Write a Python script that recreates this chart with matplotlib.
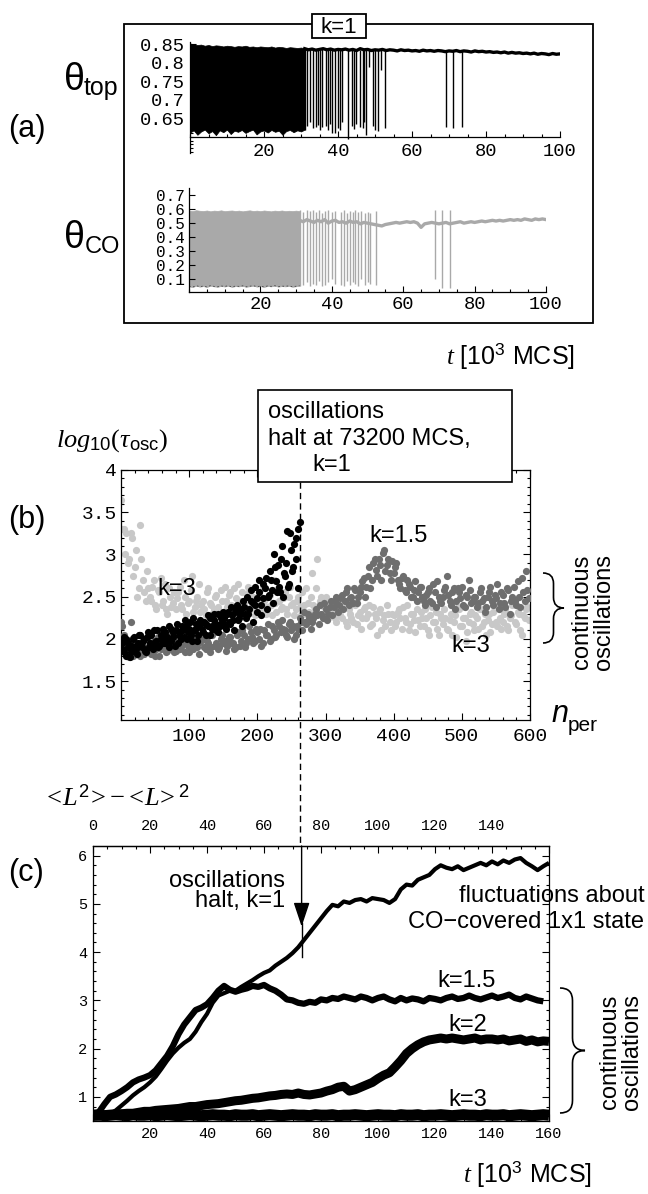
import numpy as np
import matplotlib
matplotlib.use('Agg')
import matplotlib.pyplot as plt
from matplotlib.patches import Rectangle, PathPatch
from matplotlib.path import Path
from matplotlib.lines import Line2D

# ---------------- data ----------------
# (a) k=1 coverages, t in 10^3 MCS
t_dense = np.arange(0, 32)            # dense oscillation region
top_hi = [0.852, 0.850, 0.848, 0.849, 0.846, 0.848, 0.845, 0.847, 0.846, 0.844,
          0.846, 0.845, 0.843, 0.845, 0.844, 0.846, 0.843, 0.844, 0.842, 0.844,
          0.843, 0.842, 0.844, 0.841, 0.843, 0.842, 0.840, 0.842, 0.841, 0.840,
          0.841, 0.839]
top_lo = [0.612, 0.618, 0.606, 0.615, 0.620, 0.610, 0.616, 0.605, 0.618, 0.613,
          0.620, 0.608, 0.617, 0.614, 0.619, 0.611, 0.616, 0.620, 0.607, 0.615,
          0.618, 0.612, 0.619, 0.614, 0.617, 0.606, 0.616, 0.619, 0.613, 0.618,
          0.615, 0.620]
co_hi = [0.590, 0.585, 0.592, 0.588, 0.586, 0.590, 0.584, 0.589, 0.587, 0.591,
         0.585, 0.588, 0.590, 0.586, 0.589, 0.584, 0.588, 0.591, 0.586, 0.589,
         0.585, 0.590, 0.587, 0.584, 0.589, 0.586, 0.590, 0.585, 0.588, 0.586,
         0.589, 0.585]
co_lo = [0.050, 0.045, 0.055, 0.048, 0.052, 0.046, 0.055, 0.050, 0.047, 0.053,
         0.049, 0.055, 0.046, 0.052, 0.050, 0.054, 0.047, 0.051, 0.055, 0.048,
         0.052, 0.046, 0.053, 0.050, 0.055, 0.048, 0.052, 0.050, 0.054, 0.047,
         0.051, 0.055]

t_base = np.arange(31, 101)           # after the oscillations die out
top_base = [0.838, 0.835, 0.837, 0.834, 0.836, 0.838, 0.835, 0.837, 0.834, 0.836,
            0.835, 0.837, 0.834, 0.836, 0.833, 0.838, 0.835, 0.836, 0.833, 0.835,
            0.834, 0.836, 0.833, 0.835, 0.834, 0.832, 0.835, 0.833, 0.834, 0.832,
            0.833, 0.831, 0.834, 0.832, 0.833, 0.831, 0.833, 0.832, 0.830, 0.832,
            0.831, 0.833, 0.830, 0.832, 0.831, 0.829, 0.832, 0.830, 0.831, 0.829,
            0.830, 0.828, 0.829, 0.827, 0.829, 0.826, 0.828, 0.826, 0.827, 0.825,
            0.826, 0.824, 0.826, 0.823, 0.825, 0.824, 0.822, 0.825, 0.823, 0.824]
co_base = [0.520, 0.510, 0.525, 0.515, 0.505, 0.520, 0.510, 0.525, 0.500, 0.515,
           0.520, 0.505, 0.510, 0.500, 0.515, 0.505, 0.510, 0.495, 0.505, 0.500,
           0.495, 0.490, 0.485, 0.480, 0.490, 0.495, 0.500, 0.505, 0.500, 0.505,
           0.510, 0.505, 0.510, 0.500, 0.470, 0.495, 0.500, 0.505, 0.500, 0.495,
           0.500, 0.505, 0.495, 0.500, 0.505, 0.510, 0.500, 0.505, 0.510, 0.505,
           0.510, 0.515, 0.510, 0.515, 0.520, 0.515, 0.520, 0.515, 0.520, 0.525,
           0.520, 0.525, 0.520, 0.530, 0.525, 0.520, 0.530, 0.525, 0.530, 0.525]

top_spike_t = [31.0, 31.6, 32.4, 33.2, 34.0, 34.7, 35.2, 35.8, 36.7, 37.4, 37.9, 38.3,
               39.2, 40.1, 40.5, 41.2, 42.8, 43.7, 44.3, 44.9, 45.9, 46.8, 47.1, 47.6,
               48.4, 49.4, 50.0, 50.9, 51.5, 52.7, 69.2, 71.0, 73.4]
top_spike_lo = [0.620, 0.630, 0.640, 0.625, 0.628, 0.632, 0.618, 0.626, 0.630, 0.620,
                0.636, 0.610, 0.612, 0.625, 0.620, 0.640, 0.595, 0.630, 0.622, 0.635,
                0.628, 0.625, 0.640, 0.606, 0.790, 0.630, 0.618, 0.615, 0.780, 0.625,
                0.628, 0.625, 0.628]
top_spike_hi = [0.838] * 16 + [0.835] * 14 + [0.832] * 3

co_spike_t = [31.0, 31.8, 33.0, 33.8, 34.6, 35.5, 36.4, 37.3, 38.2, 39.0, 40.0, 40.8, 42.6,
              43.4, 44.2, 45.0, 45.8, 46.6, 47.4, 48.3, 49.2, 50.0, 50.8, 52.5, 69.0, 71.0, 73.2]
co_spike_lo = [0.05, 0.06, 0.08, 0.05, 0.07, 0.06, 0.09, 0.05, 0.06, 0.08, 0.10, 0.07, 0.06,
               0.05, 0.09, 0.06, 0.08, 0.07, 0.05, 0.10, 0.06, 0.08, 0.07, 0.06, 0.10, 0.04, 0.04]
co_spike_hi = [0.59, 0.58, 0.59, 0.585, 0.59, 0.58, 0.59, 0.575, 0.585, 0.59, 0.58, 0.585,
               0.58, 0.59, 0.575, 0.585, 0.58, 0.59, 0.58, 0.585, 0.575, 0.58, 0.575, 0.585,
               0.59, 0.59, 0.59]

# (b) log10(tau_osc) vs n_per  (two interleaved samplings per series)
n_k1 = np.arange(1, 263, 3)
k1_b = [1.95, 1.85, 2.0, 1.9, 1.78, 1.92, 2.02, 1.88, 1.95, 2.05,
        1.9, 2.0, 1.85, 2.08, 1.95, 1.92, 2.1, 1.98, 1.9, 2.05,
        2.12, 1.95, 2.02, 2.15, 1.98, 2.08, 1.92, 2.18, 2.05, 2.0,
        2.1, 2.22, 2.0, 2.12, 2.05, 2.25, 2.1, 1.98, 2.15, 2.2,
        2.08, 2.18, 2.28, 2.05, 2.15, 2.22, 2.1, 2.3, 2.15, 2.2,
        2.25, 2.12, 2.32, 2.18, 2.28, 2.1, 2.35, 2.22, 2.3, 2.15,
        2.38, 2.25, 2.3, 2.45, 2.2, 2.4, 2.32, 2.55, 2.28, 2.48,
        2.6, 2.35, 2.52, 2.7, 2.42, 2.85, 2.55, 2.62, 2.95, 2.5,
        2.75, 3.28, 2.65, 3.05, 2.85, 3.2, 2.6, 3.38]
n_k1_2 = np.arange(2, 261, 3)
k1_b2 = [1.88, 2.02, 1.8, 1.95, 1.85, 2.0, 1.9, 1.82, 2.05, 1.92,
         1.98, 1.86, 2.02, 1.9, 2.05, 1.88, 1.96, 2.1, 1.92, 2.0,
         1.95, 2.08, 2.0, 1.9, 2.12, 2.02, 2.1, 1.95, 2.08, 2.15,
         2.02, 2.15, 2.08, 2.2, 1.98, 2.1, 2.18, 2.05, 2.22, 2.12,
         2.2, 2.05, 2.15, 2.25, 2.12, 2.3, 2.18, 2.08, 2.25, 2.32,
         2.15, 2.3, 2.2, 2.38, 2.22, 2.32, 2.4, 2.25, 2.35, 2.45,
         2.3, 2.5, 2.35, 2.58, 2.42, 2.62, 2.48, 2.7, 2.4, 2.65,
         2.72, 2.5, 2.8, 2.58, 3.0, 2.68, 2.88, 2.55, 3.1, 2.78,
         2.9, 2.62, 3.25, 2.8, 3.12, 2.95, 3.3]
n_k15 = np.arange(2, 600, 4)
k15_b = [2.15, 1.95, 1.85, 2.2, 1.8, 1.9, 2.05, 1.88, 1.82, 2.0,
         1.85, 1.95, 1.8, 2.02, 1.88, 1.92, 1.85, 2.05, 1.9, 1.84,
         1.95, 1.88, 2.0, 1.85, 1.92, 2.05, 1.88, 1.95, 1.82, 2.0,
         1.9, 1.98, 1.85, 2.05, 1.92, 1.88, 2.0, 1.95, 1.86, 2.02,
         1.95, 1.88, 2.05, 1.92, 2.1, 1.9, 2.0, 2.08, 1.95, 2.12,
         2.0, 1.92, 2.1, 2.05, 1.98, 2.15, 2.02, 2.2, 2.08, 2.12,
         2.05, 2.18, 2.1, 2.0, 2.15, 2.25, 2.1, 2.2, 2.3, 2.12,
         2.25, 2.35, 2.18, 2.3, 2.42, 2.22, 2.38, 2.28, 2.45, 2.32,
         2.48, 2.35, 2.55, 2.4, 2.5, 2.6, 2.42, 2.55, 2.68, 2.5,
         2.75, 2.6, 2.9, 2.82, 2.95, 2.7, 3.05, 2.88, 2.78, 2.92,
         2.85, 2.7, 2.6, 2.75, 2.55, 2.65, 2.5, 2.58, 2.45, 2.62,
         2.5, 2.4, 2.55, 2.45, 2.65, 2.38, 2.5, 2.42, 2.58, 2.75,
         2.45, 2.55, 2.35, 2.6, 2.48, 2.4, 2.52, 2.7, 2.42, 2.5,
         2.38, 2.55, 2.45, 2.32, 2.5, 2.62, 2.4, 2.48, 2.35, 2.55,
         2.42, 2.6, 2.3, 2.5, 2.45, 2.68, 2.38, 2.55, 2.8, 2.48]
n_k15_2 = np.arange(0, 600, 4)
k15_b2 = [2.2, 2.05, 1.9, 1.78, 2.0, 1.85, 1.95, 1.8, 1.92, 1.86,
          1.9, 1.82, 1.98, 1.88, 1.8, 1.95, 1.9, 1.86, 2.0, 1.88,
          1.86, 1.98, 1.9, 1.95, 2.02, 1.85, 1.92, 2.0, 1.9, 1.96,
          2.0, 1.88, 1.95, 1.9, 2.08, 1.95, 1.9, 2.05, 1.98, 1.92,
          2.02, 1.95, 1.9, 2.08, 1.98, 2.05, 1.95, 2.15, 2.02, 1.98,
          2.08, 2.12, 1.95, 2.05, 2.18, 2.0, 2.1, 2.05, 2.15, 2.22,
          2.1, 2.02, 2.2, 2.15, 2.05, 2.12, 2.2, 2.32, 2.18, 2.25,
          2.2, 2.3, 2.28, 2.4, 2.25, 2.35, 2.3, 2.45, 2.38, 2.5,
          2.4, 2.52, 2.45, 2.6, 2.48, 2.42, 2.58, 2.5, 2.62, 2.72,
          2.62, 2.85, 2.7, 2.95, 2.75, 2.88, 3.02, 2.8, 2.95, 2.7,
          2.78, 2.9, 2.65, 2.72, 2.58, 2.7, 2.62, 2.5, 2.68, 2.55,
          2.62, 2.45, 2.52, 2.6, 2.42, 2.55, 2.68, 2.45, 2.5, 2.62,
          2.52, 2.4, 2.6, 2.45, 2.55, 2.62, 2.38, 2.5, 2.58, 2.45,
          2.5, 2.42, 2.6, 2.48, 2.38, 2.55, 2.45, 2.52, 2.65, 2.42,
          2.52, 2.38, 2.58, 2.45, 2.62, 2.4, 2.5, 2.72, 2.45, 2.58]
n_k3 = np.arange(0, 600, 4)
k3_b = [3.65, 3.3, 3.25, 2.95, 3.2, 2.85, 2.5, 3.35, 2.7, 2.45,
        2.6, 2.45, 2.7, 2.35, 2.55, 2.4, 2.65, 2.3, 2.5, 2.42,
        2.35, 2.55, 2.4, 2.7, 2.3, 2.45, 2.75, 2.38, 2.5, 2.32,
        2.45, 2.28, 2.6, 2.4, 2.35, 2.52, 2.3, 2.45, 2.62, 2.38,
        2.55, 2.32, 2.48, 2.65, 2.35, 2.42, 2.3, 2.55, 2.4, 2.28,
        2.45, 2.35, 2.6, 2.3, 2.5, 2.4, 2.7, 2.32, 2.45, 2.38,
        2.55, 2.3, 2.62, 2.42, 2.35, 2.5, 2.28, 2.4, 2.6, 2.32,
        2.78, 2.35, 2.95, 2.45, 2.3, 2.5, 2.25, 2.4, 2.32, 2.2,
        2.35, 2.25, 2.45, 2.15, 2.3, 2.2, 2.4, 2.28, 2.12, 2.35,
        2.25, 2.4, 2.18, 2.3, 2.05, 2.35, 2.22, 2.15, 2.3, 2.1,
        2.28, 2.2, 2.35, 2.12, 2.25, 2.4, 2.18, 2.3, 2.08, 2.22,
        2.32, 2.15, 2.25, 2.05, 2.38, 2.2, 2.12, 2.3, 2.18, 2.25,
        2.1, 2.3, 2.2, 2.02, 2.35, 2.15, 2.25, 2.08, 2.3, 2.18,
        2.28, 2.12, 2.35, 2.2, 2.05, 2.3, 2.18, 2.4, 2.15, 2.25,
        2.2, 2.35, 2.1, 2.28, 2.42, 2.18, 2.3, 2.05, 2.25, 2.38]
n_k3_2 = np.arange(2, 600, 4)
k3_b2 = [3.3, 3.0, 2.9, 3.25, 2.75, 3.05, 2.6, 2.95, 2.55, 2.8,
         2.5, 2.62, 2.4, 2.58, 2.72, 2.45, 2.35, 2.6, 2.38, 2.55,
         2.48, 2.62, 2.35, 2.5, 2.42, 2.58, 2.32, 2.45, 2.65, 2.4,
         2.35, 2.55, 2.42, 2.3, 2.5, 2.38, 2.58, 2.32, 2.45, 2.52,
         2.4, 2.6, 2.3, 2.45, 2.55, 2.38, 2.62, 2.35, 2.5, 2.42,
         2.55, 2.3, 2.45, 2.38, 2.52, 2.28, 2.42, 2.6, 2.35, 2.48,
         2.35, 2.5, 2.4, 2.28, 2.45, 2.38, 2.55, 2.3, 2.42, 2.5,
         2.4, 2.6, 2.3, 2.5, 2.38, 2.28, 2.45, 2.35, 2.25, 2.4,
         2.28, 2.4, 2.2, 2.35, 2.25, 2.42, 2.18, 2.32, 2.25, 2.38,
         2.3, 2.15, 2.38, 2.25, 2.32, 2.1, 2.28, 2.4, 2.2, 2.3,
         2.15, 2.32, 2.25, 2.38, 2.2, 2.1, 2.3, 2.22, 2.35, 2.15,
         2.25, 2.35, 2.1, 2.28, 2.2, 2.32, 2.05, 2.25, 2.35, 2.12,
         2.22, 2.05, 2.28, 2.38, 2.15, 2.25, 1.98, 2.2, 2.32, 2.1,
         2.25, 2.35, 2.15, 2.3, 2.22, 2.08, 2.32, 2.2, 2.38, 2.12,
         2.3, 2.15, 2.25, 2.4, 2.2, 2.32, 2.1, 2.28, 2.35, 2.22]
N_HALT = 262

# (c) <L^2>-<L>^2 vs t
t_c = np.arange(0, 161, 2)
k1_c = [0.60, 0.60, 0.62, 0.65, 0.72, 0.82, 0.92, 1.03, 1.12, 1.20,
        1.30, 1.42, 1.58, 1.75, 1.90, 2.02, 2.12, 2.20, 2.35, 2.55,
        2.72, 2.95, 3.10, 3.15, 3.20, 3.20, 3.28, 3.35, 3.42, 3.50,
        3.57, 3.62, 3.72, 3.80, 3.88, 3.98, 4.10, 4.25, 4.40, 4.55,
        4.70, 4.85, 4.98, 4.95, 5.05, 5.02, 5.08, 5.10, 5.05, 5.12,
        5.10, 5.08, 5.02, 5.10, 5.30, 5.40, 5.38, 5.50, 5.55, 5.60,
        5.72, 5.80, 5.75, 5.72, 5.78, 5.70, 5.75, 5.80, 5.85, 5.80,
        5.88, 5.82, 5.90, 5.85, 5.92, 5.95, 5.85, 5.78, 5.70, 5.78,
        5.85]
k15_c = [0.60, 0.68, 0.85, 1.00, 1.05, 1.12, 1.20, 1.30, 1.36, 1.40,
         1.45, 1.55, 1.70, 1.85, 2.05, 2.30, 2.50, 2.65, 2.80, 2.85,
         2.92, 3.05, 3.20, 3.30, 3.22, 3.18, 3.22, 3.25, 3.30, 3.28,
         3.32, 3.25, 3.20, 3.12, 3.02, 3.00, 2.95, 2.93, 2.97, 2.95,
         3.02, 3.00, 3.05, 3.03, 3.08, 3.05, 3.02, 3.08, 3.05, 3.00,
         3.05, 3.08, 3.02, 2.98, 3.05, 3.00, 3.04, 3.02, 2.98, 3.05,
         3.03, 3.00, 3.05, 3.08, 3.03, 3.05, 3.10, 3.05, 3.02, 3.06,
         3.10, 3.05, 3.08, 3.12, 3.05, 3.02, 3.08, 3.04, 3.00, 2.98]
k2_c = [0.60, 0.60, 0.62, 0.63, 0.63, 0.65, 0.66, 0.66, 0.68, 0.70,
        0.70, 0.72, 0.73, 0.74, 0.75, 0.76, 0.78, 0.80, 0.80, 0.82,
        0.84, 0.85, 0.86, 0.88, 0.90, 0.92, 0.93, 0.95, 0.97, 0.98,
        1.00, 1.02, 1.03, 1.05, 1.06, 1.05, 1.08, 1.05, 1.04, 1.06,
        1.08, 1.12, 1.15, 1.20, 1.22, 1.12, 1.15, 1.20, 1.25, 1.30,
        1.38, 1.45, 1.50, 1.62, 1.75, 1.90, 2.00, 2.08, 2.14, 2.18,
        2.20, 2.22, 2.20, 2.22, 2.20, 2.18, 2.20, 2.22, 2.18, 2.20,
        2.20, 2.18, 2.20, 2.16, 2.18, 2.20, 2.15, 2.18, 2.14, 2.16,
        2.15]
k3_c = [0.62, 0.63, 0.61, 0.62, 0.63, 0.62, 0.61, 0.63, 0.62, 0.62,
        0.63, 0.61, 0.62, 0.63, 0.62, 0.61, 0.62, 0.63, 0.62, 0.61,
        0.62, 0.63, 0.62, 0.62, 0.61, 0.63, 0.62, 0.62, 0.63, 0.61,
        0.62, 0.63, 0.62, 0.61, 0.62, 0.63, 0.62, 0.62, 0.61, 0.63,
        0.62, 0.62, 0.63, 0.61, 0.62, 0.62, 0.63, 0.62, 0.61, 0.62,
        0.63, 0.62, 0.62, 0.61, 0.63, 0.62, 0.62, 0.63, 0.61, 0.62,
        0.62, 0.63, 0.62, 0.61, 0.62, 0.63, 0.62, 0.62, 0.61, 0.63,
        0.62, 0.62, 0.63, 0.61, 0.62, 0.63, 0.62, 0.61, 0.62, 0.63,
        0.62]
T_HALT = 73.2

# ---------------- figure ----------------
plt.rcParams['font.family'] = ['Liberation Sans', 'DejaVu Sans']
plt.rcParams['mathtext.fontset'] = 'custom'
plt.rcParams['mathtext.rm'] = 'Liberation Serif'
plt.rcParams['mathtext.it'] = 'Liberation Serif:italic'
plt.rcParams['mathtext.sf'] = 'Liberation Sans'
plt.rcParams['axes.linewidth'] = 0.9

MONO = 'Liberation Mono'
GREY_A = '#a9a9a9'
W, H = 648, 1194
fig = plt.figure(figsize=(W / 100, H / 100), dpi=100)


def px_box(x0, y0, x1, y1):
    # pixel box (origin top-left) -> figure fraction rect
    return [x0 / W, 1 - y1 / H, (x1 - x0) / W, (y1 - y0) / H]


def ftext(x, y, s, **kw):
    kw.setdefault('va', 'baseline')
    return fig.text(x / W, 1 - y / H, s, **kw)


def ticks(ax, size, pad, major=5, minor=2.5):
    ax.tick_params(which='both', direction='in', width=0.8, labelsize=size, pad=pad)
    ax.tick_params(which='major', length=major)
    ax.tick_params(which='minor', length=minor)


def brace(x0, x1, y0, y1):
    # curly brace opening left, tip pointing right (pixel coords)
    ym, xm, r = (y0 + y1) / 2, (x0 + x1) / 2, (x1 - x0) / 2
    pts = [(x0, y0), (xm, y0), (xm, y0 + r), (xm, ym - r), (xm, ym), (x1, ym),
           (xm, ym), (xm, ym + r), (xm, y1 - r), (xm, y1), (x0, y1)]
    codes = [Path.MOVETO, Path.CURVE3, Path.CURVE3, Path.LINETO, Path.CURVE3, Path.CURVE3,
             Path.CURVE3, Path.CURVE3, Path.LINETO, Path.CURVE3, Path.CURVE3]
    pts = [(x / W, 1 - y / H) for x, y in pts]
    fig.add_artist(PathPatch(Path(pts, codes), fill=False, lw=1.2,
                             transform=fig.transFigure))


# ---- (a) ----
fig.add_artist(Rectangle((124 / W, 1 - 323 / H), 469 / W, 299 / H, fill=False, lw=1.3,
                         transform=fig.transFigure))
fig.add_artist(Rectangle((312 / W, 1 - 38 / H), 54 / W, 24 / H, fc='white', ec='black',
                         lw=1.3, transform=fig.transFigure, zorder=5))
ftext(339, 33, 'k=1', ha='center', fontsize=16, zorder=6)

ax1 = fig.add_axes(px_box(190, 42, 560, 153))
ax1.fill_between(t_dense, top_lo, top_hi, color='black', lw=0.5)
ax1.plot(t_base, top_base, color='black', lw=2.4)
ax1.vlines(top_spike_t, top_spike_lo, top_spike_hi, color='black', lw=1.0)
ax1.set_xlim(0, 100)
ax1.set_ylim(0.557, 0.856)
for s in ('top', 'right'):
    ax1.spines[s].set_visible(False)
ax1.spines['bottom'].set_position(('data', 0.6))
ax1.set_xticks([20, 40, 60, 80, 100], ['20', '40', '60', '80', '100'], fontfamily=MONO)
ax1.set_yticks([0.65, 0.7, 0.75, 0.8, 0.85], ['0.65', '0.7', '0.75', '0.8', '0.85'],
               fontfamily=MONO)
ax1.set_xticks(np.arange(0, 101, 5), minor=True)
ax1.set_yticks(np.arange(0.56, 0.86, 0.01), minor=True)
ticks(ax1, 13.5, 4, major=4, minor=2)

ax2 = fig.add_axes(px_box(189, 188, 546, 292))
ax2.fill_between(t_dense, co_lo, co_hi, color=GREY_A, lw=0.5)
ax2.plot(t_dense, co_lo, color='#444444', lw=0.6, ls=(0, (2, 3)))
ax2.plot(t_base, co_base, color=GREY_A, lw=2.4)
ax2.vlines(co_spike_t, co_spike_lo, co_spike_hi, color=GREY_A, lw=1.0)
ax2.set_xlim(0, 100)
ax2.set_ylim(0.01, 0.75)
for s in ('top', 'right'):
    ax2.spines[s].set_visible(False)
ax2.set_xticks([20, 40, 60, 80, 100], ['20', '40', '60', '80', '100'], fontfamily=MONO)
ax2.set_yticks([0.1, 0.2, 0.3, 0.4, 0.5, 0.6, 0.7],
               ['0.1', '0.2', '0.3', '0.4', '0.5', '0.6', '0.7'], fontfamily=MONO)
ax2.set_xticks(np.arange(0, 101, 5), minor=True)
ticks(ax2, 13.5, 3, major=4, minor=2)
ax2.tick_params(axis='y', labelsize=11.5)

ftext(64, 90, 'θ', fontsize=27)
ftext(84, 95, 'top', fontsize=18)
ftext(64, 248, 'θ', fontsize=27)
ftext(85, 253, 'CO', fontsize=17)
ftext(8, 137, '(a)', fontsize=22)
ftext(446, 364, r'$\mathit{t}$ [10$^{\mathsf{3}}$ MCS]', fontsize=18)

# ---- (b) ----
axb = fig.add_axes(px_box(121, 470, 530, 720))
axb.scatter(n_k3, k3_b, s=27, color='#c8c8c8', lw=0, zorder=2)
axb.scatter(n_k3_2, k3_b2, s=27, color='#c8c8c8', lw=0, zorder=2)
axb.scatter(n_k15, k15_b, s=27, color='#6e6e6e', lw=0, zorder=3)
axb.scatter(n_k15_2, k15_b2, s=27, color='#6e6e6e', lw=0, zorder=3)
axb.scatter(n_k1, k1_b, s=27, color='black', lw=0, zorder=4)
axb.scatter(n_k1_2, k1_b2, s=27, color='black', lw=0, zorder=4)
axb.set_xlim(0, 600)
axb.set_ylim(1.04, 4.0)
axb.set_xticks([100, 200, 300, 400, 500, 600], ['100', '200', '300', '400', '500', '600'],
               fontfamily=MONO)
axb.set_yticks([1.5, 2, 2.5, 3, 3.5, 4], ['1.5', '2', '2.5', '3', '3.5', '4'],
               fontfamily=MONO)
axb.set_xticks(np.arange(0, 601, 20), minor=True)
axb.set_yticks(np.arange(1.1, 4.0, 0.1), minor=True)
axb.tick_params(which='both', top=True, right=True)
ticks(axb, 14, 3)
axb.tick_params(axis='x', pad=6)
axb.text(365, 3.15, 'k=1.5', fontsize=17, zorder=6)
axb.text(53, 2.52, 'k=3', fontsize=17, zorder=6)
axb.text(485, 1.84, 'k=3', fontsize=17, zorder=6)

ftext(56, 447, r'$\mathit{log}_{\mathsf{10}}(\tau_{\mathsf{osc}})$', fontsize=19)
ftext(8, 528, '(b)', fontsize=22)
ftext(552, 722, 'n', fontsize=22, style='italic')
ftext(568, 731, 'per', fontsize=15)
brace(543, 564, 573, 643)
ftext(593, 612, 'continuous\noscillations', fontsize=17, rotation=90, ha='center',
      va='center', multialignment='center', linespacing=1.0)

# annotation box and dashed guide
fig.add_artist(Rectangle((258 / W, 1 - 482 / H), 254 / W, 92 / H, fc='white', ec='black',
                         lw=1.2, transform=fig.transFigure, zorder=5))
ftext(268, 418, 'oscillations', fontsize=17, zorder=6)
ftext(268, 445, 'halt at 73200 MCS,', fontsize=17, zorder=6)
ftext(312, 471, 'k=1', fontsize=17, zorder=6)
xd = axb.transData.transform((N_HALT, 2.0))[0] / fig.bbox.width
fig.add_artist(Line2D([xd, xd], [1 - 482 / H, 1 - 846 / H], color='black', lw=1.0,
                      ls=(0, (4.5, 3)), transform=fig.transFigure))

# ---- (c) ----
axc = fig.add_axes(px_box(93, 846, 549, 1121))
axc.plot(t_c, k3_c, color='black', lw=8, solid_capstyle='butt')
axc.plot(t_c, k2_c, color='black', lw=6.5, solid_capstyle='butt')
axc.plot(t_c[:80], k15_c, color='black', lw=4.5, solid_capstyle='butt')
axc.plot(t_c, k1_c, color='black', lw=3, solid_capstyle='butt')
axc.set_xlim(0, 160)
axc.set_ylim(0.5, 6.2)
axc.set_xticks([0, 20, 40, 60, 80, 100, 120, 140, 160],
               ['', '20', '40', '60', '80', '100', '120', '140', '160'], fontfamily=MONO)
axc.set_yticks([1, 2, 3, 4, 5, 6], ['1', '2', '3', '4', '5', '6'], fontfamily=MONO)
axc.set_xticks(np.arange(0, 161, 5), minor=True)
axc.set_yticks(np.arange(0.6, 6.2, 0.2), minor=True)
axc.tick_params(which='both', top=True, right=True)
ticks(axc, 11, 4)
top = axc.secondary_xaxis('top')
top.set_xticks([0, 20, 40, 60, 80, 100, 120, 140],
               ['0', '20', '40', '60', '80', '100', '120', '140'], fontfamily=MONO)
top.tick_params(length=0, pad=9, labelsize=11)

axc.annotate('', xy=(T_HALT, 4.53), xytext=(T_HALT, 6.2), annotation_clip=False,
             arrowprops=dict(arrowstyle='-|>,head_length=0.75,head_width=0.25',
                             mutation_scale=20, color='black', lw=1.0,
                             shrinkA=0, shrinkB=0))
axc.plot([T_HALT, T_HALT], [3.9, 4.6], color='black', lw=1.0)

axc.text(67.4, 5.35, 'oscillations', fontsize=17, ha='right')
axc.text(67.4, 4.93, 'halt, k=1', fontsize=17, ha='right')
axc.text(193.5, 5.04, 'fluctuations about', fontsize=17, ha='right', clip_on=False)
axc.text(193.5, 4.5, 'CO\u2212covered 1x1 state', fontsize=17, ha='right', clip_on=False)
axc.text(121, 3.27, 'k=1.5', fontsize=17)
axc.text(124.6, 2.36, 'k=2', fontsize=17)
axc.text(124.6, 0.82, 'k=3', fontsize=17)

ftext(43, 806, r'$<\!\mathit{L}^{\mathsf{2}}\!>\!-\!<\!\mathit{L}\!>^{\mathsf{2}}$', fontsize=19)
ftext(8, 881, '(c)', fontsize=22)
brace(560, 585, 988, 1113)
ftext(621, 1052, 'continuous\noscillations', fontsize=17, rotation=90, ha='center',
      va='center', multialignment='center', linespacing=1.0)
ftext(463, 1182, r'$\mathit{t}$ [10$^{\mathsf{3}}$ MCS]', fontsize=18)

fig.savefig('out.png', dpi=100)
